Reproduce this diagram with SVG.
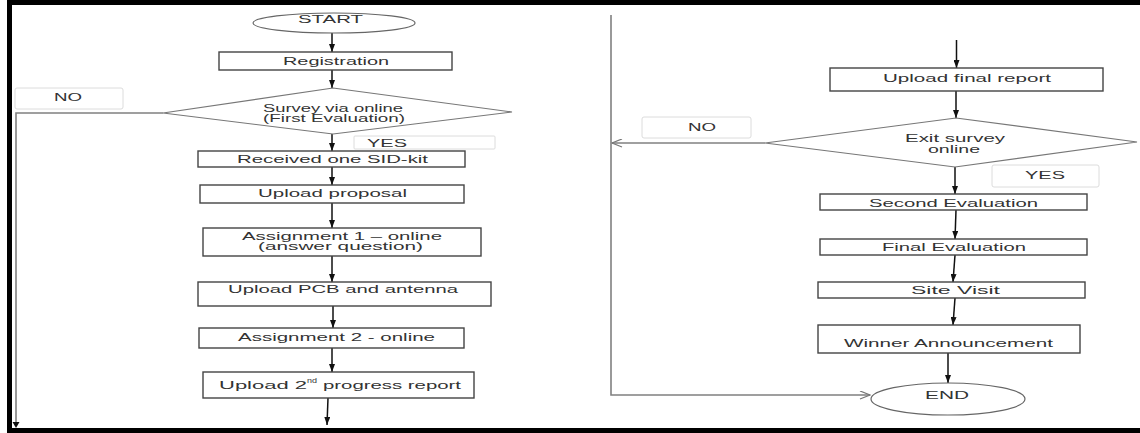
<svg xmlns="http://www.w3.org/2000/svg" width="1140" height="433" viewBox="0 0 1140 433">
<style>
.box{fill:#fff;stroke:#444;stroke-width:1.4}
.dia{fill:#fff;stroke:#777;stroke-width:1.2}
.ell{fill:#fff;stroke:#666;stroke-width:1.2}
.lbl{fill:#fff;stroke:#dcdcdc;stroke-width:1}
.t{font-family:"Liberation Sans",Arial,sans-serif;font-size:10.5px;fill:#333}
.arr{stroke:#111;stroke-width:1.5;fill:none;marker-end:url(#ah)}
.no{stroke:#808080;stroke-width:1.6;fill:none}
.noa{stroke:#808080;stroke-width:1.6;fill:none;marker-end:url(#oh)}
</style>
<defs>
<marker id="ah" viewBox="0 0 8 6" refX="8" refY="3" markerWidth="8" markerHeight="6" markerUnits="userSpaceOnUse" orient="auto"><path d="M0,0 L8,3 L0,6 z" fill="#111"/></marker>
<marker id="oh" viewBox="0 0 12 9" refX="11" refY="4.5" markerWidth="12" markerHeight="9" markerUnits="userSpaceOnUse" orient="auto"><path d="M1,0.5 L11,4.5 L1,8.5" fill="none" stroke="#777" stroke-width="1.3"/></marker>
</defs>
<rect width="1140" height="433" fill="#fff"/>
<rect x="9.5" y="2.5" width="1140" height="428" fill="none" stroke="#000" stroke-width="5"/>

<g id="connectors">
<path class="arr" d="M332,33 V52"/>
<path class="arr" d="M332,70 V88"/>
<path class="arr" d="M332,134 V151"/>
<path class="arr" d="M332,167 V185"/>
<path class="arr" d="M332,203 V228"/>
<path class="arr" d="M332,256 V282"/>
<path class="arr" d="M333,306 V328"/>
<path class="arr" d="M332,348 V372"/>
<path class="arr" d="M328,398 L327,425"/>
<path class="no" d="M163,113 H16 V424"/>
<path d="M12.5,422 L19.5,422 L16,428 z" fill="#111"/>
<path class="arr" d="M956.5,40 V68"/>
<path class="arr" d="M956,91 V118"/>
<path class="arr" d="M955,167 V194"/>
<path class="arr" d="M956,210 L955,239"/>
<path class="arr" d="M955,255 L953,282"/>
<path class="arr" d="M955,298 L953,325"/>
<path class="arr" d="M948,353 V383"/>
<path class="noa" d="M765,143 H612"/>
<path class="noa" d="M611,15 V395 H870"/>
</g>

<g id="start"><ellipse class="ell" cx="334" cy="23" rx="81" ry="10"/><text class="t" x="298" y="23" textLength="65" lengthAdjust="spacingAndGlyphs">START</text></g>
<g id="registration"><rect class="box" x="219" y="52" width="233" height="18"/><text class="t" x="283" y="65" textLength="106" lengthAdjust="spacingAndGlyphs">Registration</text></g>
<g id="survey"><polygon class="dia" points="333,88 512,112 333,134 163,113"/><text class="t" x="263" y="112" textLength="140" lengthAdjust="spacingAndGlyphs">Survey via online</text><text class="t" x="263" y="122" textLength="142" lengthAdjust="spacingAndGlyphs">(First Evaluation)</text></g>
<g id="no-left"><rect class="lbl" x="15" y="88" width="108" height="21" rx="2"/><text class="t" x="54" y="101" textLength="28" lengthAdjust="spacingAndGlyphs">NO</text></g>
<g id="yes-left"><rect class="lbl" x="354" y="136" width="141" height="13" rx="1"/><text class="t" x="367" y="147" textLength="40" lengthAdjust="spacingAndGlyphs">YES</text></g>
<g id="received"><rect class="box" x="198" y="151" width="267" height="16"/><text class="t" x="237" y="163" textLength="191" lengthAdjust="spacingAndGlyphs">Received one SID-kit</text></g>
<g id="proposal"><rect class="box" x="200" y="185" width="264" height="18"/><text class="t" x="258" y="197" textLength="149" lengthAdjust="spacingAndGlyphs">Upload proposal</text></g>
<g id="assignment1"><rect class="box" x="203" y="228" width="278" height="28"/><text class="t" x="242" y="240" textLength="200" lengthAdjust="spacingAndGlyphs">Assignment 1 – online</text><text class="t" x="258" y="250" textLength="165" lengthAdjust="spacingAndGlyphs">(answer question)</text></g>
<g id="pcb"><rect class="box" x="198" y="282" width="293" height="24"/><text class="t" x="228" y="293" textLength="230" lengthAdjust="spacingAndGlyphs">Upload PCB and antenna</text></g>
<g id="assignment2"><rect class="box" x="199" y="328" width="265" height="20"/><text class="t" x="238" y="341" textLength="197" lengthAdjust="spacingAndGlyphs">Assignment 2 - online</text></g>
<g id="progress2"><rect class="box" x="203" y="372" width="271" height="26"/><text class="t" x="219" y="389"><tspan textLength="88" lengthAdjust="spacingAndGlyphs">Upload 2</tspan><tspan font-size="7" dy="-6" textLength="10" lengthAdjust="spacingAndGlyphs">nd</tspan><tspan x="323" dy="6" textLength="138" lengthAdjust="spacingAndGlyphs">progress report</tspan></text></g>

<g id="final-report"><rect class="box" x="830" y="68" width="273" height="23"/><text class="t" x="883" y="82" textLength="168" lengthAdjust="spacingAndGlyphs">Upload final report</text></g>
<g id="exit-survey"><polygon class="dia" points="956,118 1137,142 955,167 765,143"/><text class="t" x="905" y="142" textLength="100" lengthAdjust="spacingAndGlyphs">Exit survey</text><text class="t" x="928" y="152.5" textLength="52" lengthAdjust="spacingAndGlyphs">online</text></g>
<g id="no-right"><rect class="lbl" x="642" y="117" width="109" height="21" rx="2"/><text class="t" x="688" y="131" textLength="28" lengthAdjust="spacingAndGlyphs">NO</text></g>
<g id="yes-right"><rect class="lbl" x="992" y="165" width="107" height="22" rx="2"/><text class="t" x="1025" y="179" textLength="40" lengthAdjust="spacingAndGlyphs">YES</text></g>
<g id="second-eval"><rect class="box" x="820" y="194" width="267" height="16"/><text class="t" x="869" y="206.5" textLength="169" lengthAdjust="spacingAndGlyphs">Second Evaluation</text></g>
<g id="final-eval"><rect class="box" x="820" y="239" width="267" height="16"/><text class="t" x="882" y="251" textLength="144" lengthAdjust="spacingAndGlyphs">Final Evaluation</text></g>
<g id="site-visit"><rect class="box" x="818" y="282" width="267" height="16"/><text class="t" x="911" y="294" textLength="89" lengthAdjust="spacingAndGlyphs">Site Visit</text></g>
<g id="winner"><rect class="box" x="818" y="325" width="262" height="28"/><text class="t" x="844" y="346.5" textLength="209" lengthAdjust="spacingAndGlyphs">Winner Announcement</text></g>
<g id="end"><ellipse class="ell" cx="948" cy="399" rx="77" ry="16"/><text class="t" x="925" y="398.5" textLength="44" lengthAdjust="spacingAndGlyphs">END</text></g>
</svg>
